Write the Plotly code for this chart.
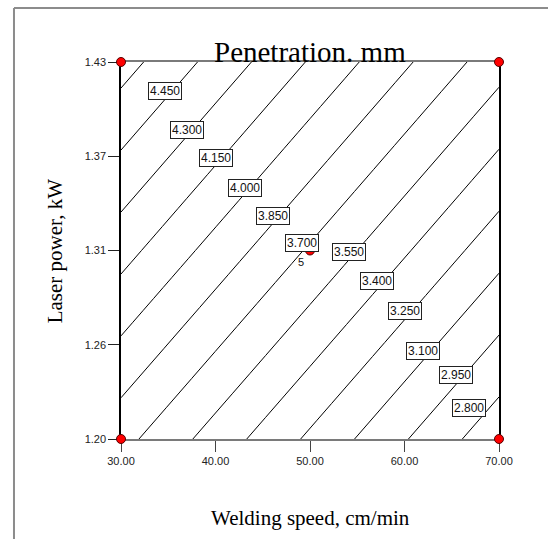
import plotly.graph_objects as go

# Data
speed = [30.0, 50.0, 70.0]                 # Welding speed, cm/min
power = [1.20, 1.315, 1.43]                # Laser power, kW
penetration = [                            # rows follow power, columns follow speed
    [3.750, 3.224, 2.698],
    [4.207, 3.681, 3.155],
    [4.663, 4.137, 3.611],
]
levels_start, levels_end, levels_step = 2.8, 4.6, 0.15

label_text = ["4.450", "4.300", "4.150", "4.000", "3.850", "3.700",
              "3.550", "3.400", "3.250", "3.100", "2.950", "2.800"]
label_speed = [34.69, 36.98, 40.08, 43.12, 46.08, 49.15,
               54.13, 57.06, 60.03, 61.96, 65.40, 66.80]
label_power = [1.4121, 1.3888, 1.3714, 1.3533, 1.3359, 1.3196,
               1.3141, 1.2961, 1.2782, 1.2536, 1.2392, 1.2190]

design_speed = [30, 70, 30, 70, 50]
design_power = [1.20, 1.20, 1.43, 1.43, 1.315]

x_ticks = [30, 40, 50, 60, 70]
x_ticktext = ["30.00", "40.00", "50.00", "60.00", "70.00"]
y_ticks = [1.20, 1.2575, 1.315, 1.3725, 1.43]
y_ticktext = ["1.20", "1.26", "1.31", "1.37", "1.43"]

fig = go.Figure()
fig.add_trace(go.Contour(
    x=speed, y=power, z=penetration,
    contours=dict(start=levels_start, end=levels_end, size=levels_step,
                  coloring="lines", showlabels=False),
    colorscale=[[0, "black"], [1, "black"]],
    line=dict(width=1, color="black"),
    showscale=False, hoverinfo="skip",
))

sans = "Liberation Sans, Arial, sans-serif"
for t, xv, yv in zip(label_text, label_speed, label_power):
    fig.add_annotation(x=xv, y=yv, text=t, showarrow=False,
                       font=dict(family=sans, size=12, color="#111"),
                       bgcolor="white", bordercolor="#222", borderwidth=1, borderpad=1)

fig.add_trace(go.Scatter(
    x=design_speed, y=design_power, mode="markers",
    marker=dict(size=9, color="#ff0000", line=dict(color="#550000", width=1)),
    cliponaxis=False, showlegend=False,
))

fig.add_annotation(x=design_speed[4], y=design_power[4], text="5", showarrow=False,
                   xanchor="right", yanchor="top", xshift=-4, yshift=-3,
                   font=dict(family=sans, size=11, color="#111"))

serif = "Liberation Serif, Times New Roman, serif"
fig.add_annotation(xref="paper", yref="paper", x=0.5, y=1, yanchor="bottom", yshift=-8,
                   text="Penetration. mm", showarrow=False,
                   font=dict(family=serif, size=29, color="black"))
fig.add_annotation(xref="paper", yref="paper", x=0.5, y=-0.2095, yanchor="middle",
                   text="Welding speed, cm/min", showarrow=False,
                   font=dict(family=serif, size=21, color="black"))
fig.add_annotation(xref="paper", yref="paper", x=-0.175, y=0.5, xanchor="center",
                   yanchor="middle", textangle=-90,
                   text="Laser power, kW", showarrow=False,
                   font=dict(family=serif, size=21, color="black"))

# outer frame (top and left visible)
fig.add_shape(type="line", xref="paper", yref="paper", x0=-0.2831, y0=1.1432, x1=1.2, y1=1.1432,
              line=dict(color="#8c8c8c", width=2))
fig.add_shape(type="line", xref="paper", yref="paper", x0=-0.2831, y0=1.1432, x1=-0.2831, y1=-0.35,
              line=dict(color="#8c8c8c", width=2))

tickfont = dict(family=sans, size=11, color="#222")
fig.update_xaxes(range=[30, 70], tickvals=x_ticks, ticktext=x_ticktext, ticks="outside",
                 ticklen=11, tickcolor="#444", tickwidth=1, showline=True, linecolor="#7a7a7a",
                 linewidth=1.5, mirror=True, showgrid=False, zeroline=False, tickfont=tickfont,
                 layer="below traces")
fig.update_yaxes(range=[1.20, 1.43], tickvals=y_ticks, ticktext=y_ticktext, ticks="outside",
                 ticklen=11, tickcolor="#222", tickwidth=1, showline=True, linecolor="black",
                 linewidth=1.5, mirror=True, showgrid=False, zeroline=False, tickfont=tickfont,
                 layer="below traces")

fig.update_layout(width=548, height=539, margin=dict(l=121, r=49, t=62, b=100),
                  paper_bgcolor="white", plot_bgcolor="white", showlegend=False)

fig.write_html("out.html")
